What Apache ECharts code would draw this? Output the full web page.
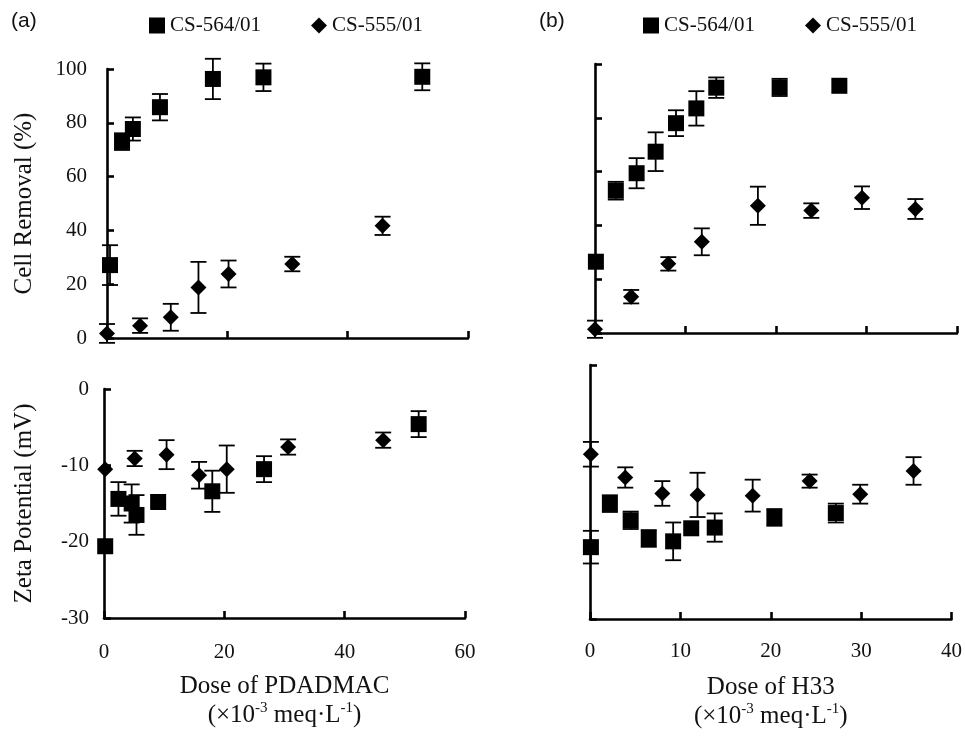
<!DOCTYPE html>
<html>
<head>
<meta charset="utf-8">
<script src="https://cdn.jsdelivr.net/npm/echarts@6/dist/echarts.min.js"></script>
<style>
html,body{margin:0;padding:0;background:#fff;}
#main{width:965px;height:738px;}
</style>
</head>
<body>
<div id="main"></div>
<script>
// ---- Data ----
// Panel (a) top: Cell removal (%) vs dose of PDADMAC
const aRemSqX = [0.5, 2.5, 4.3, 8.8, 17.6, 26.0, 52.4];
const aRemSqY = [27.1, 73.0, 77.7, 85.8, 96.3, 96.9, 97.1];
const aRemSqErr = [7.4, 3.1, 4.3, 4.9, 7.5, 5.1, 5.0];
const aRemDmX = [0, 5.5, 10.6, 15.2, 20.2, 30.8, 45.8];
const aRemDmY = [1.7, 4.6, 7.7, 18.8, 23.8, 27.5, 41.7];
const aRemDmErr = [3.5, 2.7, 5.0, 9.5, 5.0, 2.7, 3.4];
// Panel (a) bottom: Zeta potential (mV) vs dose of PDADMAC
const aZetaSqX = [0.2, 2.4, 4.6, 5.4, 9.0, 18.0, 26.6, 52.3];
const aZetaSqY = [-20.6, -14.4, -15.0, -16.5, -14.8, -13.4, -10.5, -4.6];
const aZetaSqErr = [0, 2.2, 2.5, 2.6, 0, 2.7, 1.7, 1.7];
const aZetaDmX = [0.2, 5.1, 10.4, 15.8, 20.4, 30.6, 46.4];
const aZetaDmY = [-10.5, -9.1, -8.6, -11.3, -10.5, -7.6, -6.7];
const aZetaDmErr = [0, 1.0, 1.9, 1.75, 3.1, 1.0, 1.0];
// Panel (b) top: Cell removal (%) vs dose of H33
const bRemSqX = [0.1, 2.3, 4.6, 6.7, 8.95, 11.2, 13.4, 20.4, 27.0];
const bRemSqY = [26.5, 52.9, 59.4, 67.4, 78.0, 83.5, 91.2, 91.3, 91.9];
const bRemSqErr = [0, 3.3, 5.6, 7.2, 4.8, 6.4, 3.8, 3.2, 0];
const bRemDmX = [0, 4.0, 8.1, 11.8, 18.0, 23.9, 29.5, 35.4];
const bRemDmY = [1.4, 13.5, 25.7, 33.9, 47.3, 45.5, 50.3, 46.1];
const bRemDmErr = [3.2, 2.5, 2.5, 5.0, 7.1, 2.7, 4.2, 3.7];
// Panel (b) bottom: Zeta potential (mV) vs dose of H33
const bZetaSqX = [0.1, 2.2, 4.5, 6.5, 9.2, 11.2, 13.8, 20.4, 27.2];
const bZetaSqY = [-20.1, -14.1, -16.4, -18.9, -19.3, -17.5, -17.4, -16.0, -15.4];
const bZetaSqErr = [2.25, 1.15, 1.2, 1.15, 2.6, 0, 1.95, 1.15, 1.3];
const bZetaDmX = [0.1, 3.9, 8.0, 11.9, 18.0, 24.3, 29.9, 35.8];
const bZetaDmY = [-7.3, -10.5, -12.7, -12.9, -13.0, -11.0, -12.8, -9.6];
const bZetaDmErr = [1.7, 1.4, 1.7, 3.05, 2.2, 0.9, 1.3, 1.9];

const seriesNames = ['CS-564/01', 'CS-555/01'];
const panelLabels = ['(a)', '(b)'];
const yNameRemoval = 'Cell Removal (%)';
const yNameZeta = 'Zeta Potential (mV)';
const xNameA = 'Dose of PDADMAC\n(×10{sup|-3} meq·L{sup|-1})';
const xNameB = 'Dose of H33\n(×10{sup|-3} meq·L{sup|-1})';

// ---- Helpers ----
const SERIF = 'Liberation Serif, Times New Roman, serif';
const pts = (xs, ys) => xs.map((x, i) => [x, ys[i]]);
const errs = (xs, ys, es) => xs.map((x, i) => [x, ys[i] - es[i], ys[i] + es[i], es[i]]).filter(d => d[3] > 0);

function errorSeries(idx, data) {
  return {
    type: 'custom', xAxisIndex: idx, yAxisIndex: idx, data: data, silent: true, z: 1,
    encode: {x: 0, y: [1, 2]},
    renderItem: function (params, api) {
      const x = api.value(0);
      const lo = api.coord([x, api.value(1)]);
      const hi = api.coord([x, api.value(2)]);
      const hw = 8;
      const st = {stroke: '#000', lineWidth: 1.8};
      return {type: 'group', children: [
        {type: 'line', shape: {x1: lo[0], y1: lo[1], x2: hi[0], y2: hi[1]}, style: st},
        {type: 'line', shape: {x1: lo[0] - hw, y1: lo[1], x2: lo[0] + hw, y2: lo[1]}, style: st},
        {type: 'line', shape: {x1: hi[0] - hw, y1: hi[1], x2: hi[0] + hw, y2: hi[1]}, style: st}
      ]};
    }
  };
}
function scat(idx, name, symbol, size, data) {
  return {type: 'scatter', name: name, xAxisIndex: idx, yAxisIndex: idx, symbol: symbol,
    symbolSize: size, data: data, clip: false, z: 3,
    itemStyle: {color: '#000', opacity: 1}, emphasis: {disabled: true}};
}
const axLine = {show: true, onZero: false, lineStyle: {color: '#000', width: 2.6}};
const axTick = {show: true, inside: true, length: 7, lineStyle: {color: '#000', width: 2.6}};
const lblStyle = {fontFamily: SERIF, fontSize: 21, color: '#111'};
const nameStyle = {fontFamily: SERIF, fontSize: 25, color: '#111', lineHeight: 29,
  rich: {sup: {fontFamily: SERIF, fontSize: 15, verticalAlign: 'top', lineHeight: 29, color: '#111'}}};

const xAxes = [
  {type: 'value', gridIndex: 0, min: 0, max: 60, interval: 20, axisLine: axLine, axisTick: axTick,
   splitLine: {show: false}, axisLabel: {show: false}},
  {type: 'value', gridIndex: 1, min: 0, max: 60, interval: 20, axisLine: axLine, axisTick: axTick,
   splitLine: {show: false}, axisLabel: Object.assign({margin: 24}, lblStyle),
   name: xNameA, nameLocation: 'middle', nameGap: 54, nameTextStyle: nameStyle},
  {type: 'value', gridIndex: 2, min: 0, max: 40, interval: 10, axisLine: axLine, axisTick: axTick,
   splitLine: {show: false}, axisLabel: {show: false}},
  {type: 'value', gridIndex: 3, min: 0, max: 40, interval: 10, axisLine: axLine, axisTick: axTick,
   splitLine: {show: false}, axisLabel: Object.assign({margin: 22}, lblStyle),
   name: xNameB, nameLocation: 'middle', nameGap: 54, nameTextStyle: nameStyle}
];
const yAxes = [
  {type: 'value', gridIndex: 0, min: 0, max: 100, interval: 20, axisLine: axLine, axisTick: axTick,
   splitLine: {show: false}, axisLabel: Object.assign({margin: 20}, lblStyle),
   name: yNameRemoval, nameLocation: 'middle', nameGap: 70,
   nameTextStyle: {fontFamily: SERIF, fontSize: 25, color: '#111'}},
  {type: 'value', gridIndex: 1, min: -30, max: 0, interval: 10, axisLine: axLine, axisTick: axTick,
   splitLine: {show: false}, axisLabel: Object.assign({margin: 15}, lblStyle),
   name: yNameZeta, nameLocation: 'middle', nameGap: 67,
   nameTextStyle: {fontFamily: SERIF, fontSize: 25, color: '#111'}},
  {type: 'value', gridIndex: 2, min: 0, max: 100, interval: 20, axisLine: axLine, axisTick: axTick,
   splitLine: {show: false}, axisLabel: {show: false}},
  {type: 'value', gridIndex: 3, min: -30, max: 5, interval: 35, axisLine: axLine, axisTick: axTick,
   splitLine: {show: false}, axisLabel: {show: false}}
];

const legendText = {fontFamily: SERIF, fontSize: 21, color: '#111'};
const option = {
  animation: false,
  backgroundColor: '#fff',
  grid: [
    {left: 107, top: 69, width: 361, height: 269},
    {left: 104, top: 389, width: 361, height: 229},
    {left: 595, top: 64, width: 362, height: 269},
    {left: 590, top: 365, width: 363, height: 254}
  ],
  legend: [
    {left: 144, top: 10, itemGap: 50, itemWidth: 16, itemHeight: 16, textStyle: legendText, selectedMode: false,
     data: [{name: seriesNames[0], icon: 'rect'}, {name: seriesNames[1], icon: 'diamond'}]},
    {left: 638, top: 10, itemGap: 50, itemWidth: 16, itemHeight: 16, textStyle: legendText, selectedMode: false,
     data: [{name: seriesNames[0], icon: 'rect'}, {name: seriesNames[1], icon: 'diamond'}]}
  ],
  graphic: [
    {type: 'text', left: 11, top: 11, style: {text: panelLabels[0], font: '21px Liberation Sans, Arial, sans-serif', fill: '#111'}},
    {type: 'text', left: 539, top: 11, style: {text: panelLabels[1], font: '21px Liberation Sans, Arial, sans-serif', fill: '#111'}}
  ],
  xAxis: xAxes,
  yAxis: yAxes,
  series: [
    errorSeries(0, errs(aRemSqX, aRemSqY, aRemSqErr)),
    errorSeries(0, errs(aRemDmX, aRemDmY, aRemDmErr)),
    scat(0, seriesNames[0], 'rect', 16, pts(aRemSqX, aRemSqY)),
    scat(0, seriesNames[1], 'diamond', 16, pts(aRemDmX, aRemDmY)),
    errorSeries(1, errs(aZetaSqX, aZetaSqY, aZetaSqErr)),
    errorSeries(1, errs(aZetaDmX, aZetaDmY, aZetaDmErr)),
    scat(1, seriesNames[0], 'rect', 16, pts(aZetaSqX, aZetaSqY)),
    scat(1, seriesNames[1], 'diamond', 16, pts(aZetaDmX, aZetaDmY)),
    errorSeries(2, errs(bRemSqX, bRemSqY, bRemSqErr)),
    errorSeries(2, errs(bRemDmX, bRemDmY, bRemDmErr)),
    scat(2, seriesNames[0], 'rect', 16, pts(bRemSqX, bRemSqY)),
    scat(2, seriesNames[1], 'diamond', 16, pts(bRemDmX, bRemDmY)),
    errorSeries(3, errs(bZetaSqX, bZetaSqY, bZetaSqErr)),
    errorSeries(3, errs(bZetaDmX, bZetaDmY, bZetaDmErr)),
    scat(3, seriesNames[0], 'rect', 16, pts(bZetaSqX, bZetaSqY)),
    scat(3, seriesNames[1], 'diamond', 16, pts(bZetaDmX, bZetaDmY))
  ]
};
const chart = echarts.init(document.getElementById('main'));
chart.setOption(option);
</script>
</body>
</html>
